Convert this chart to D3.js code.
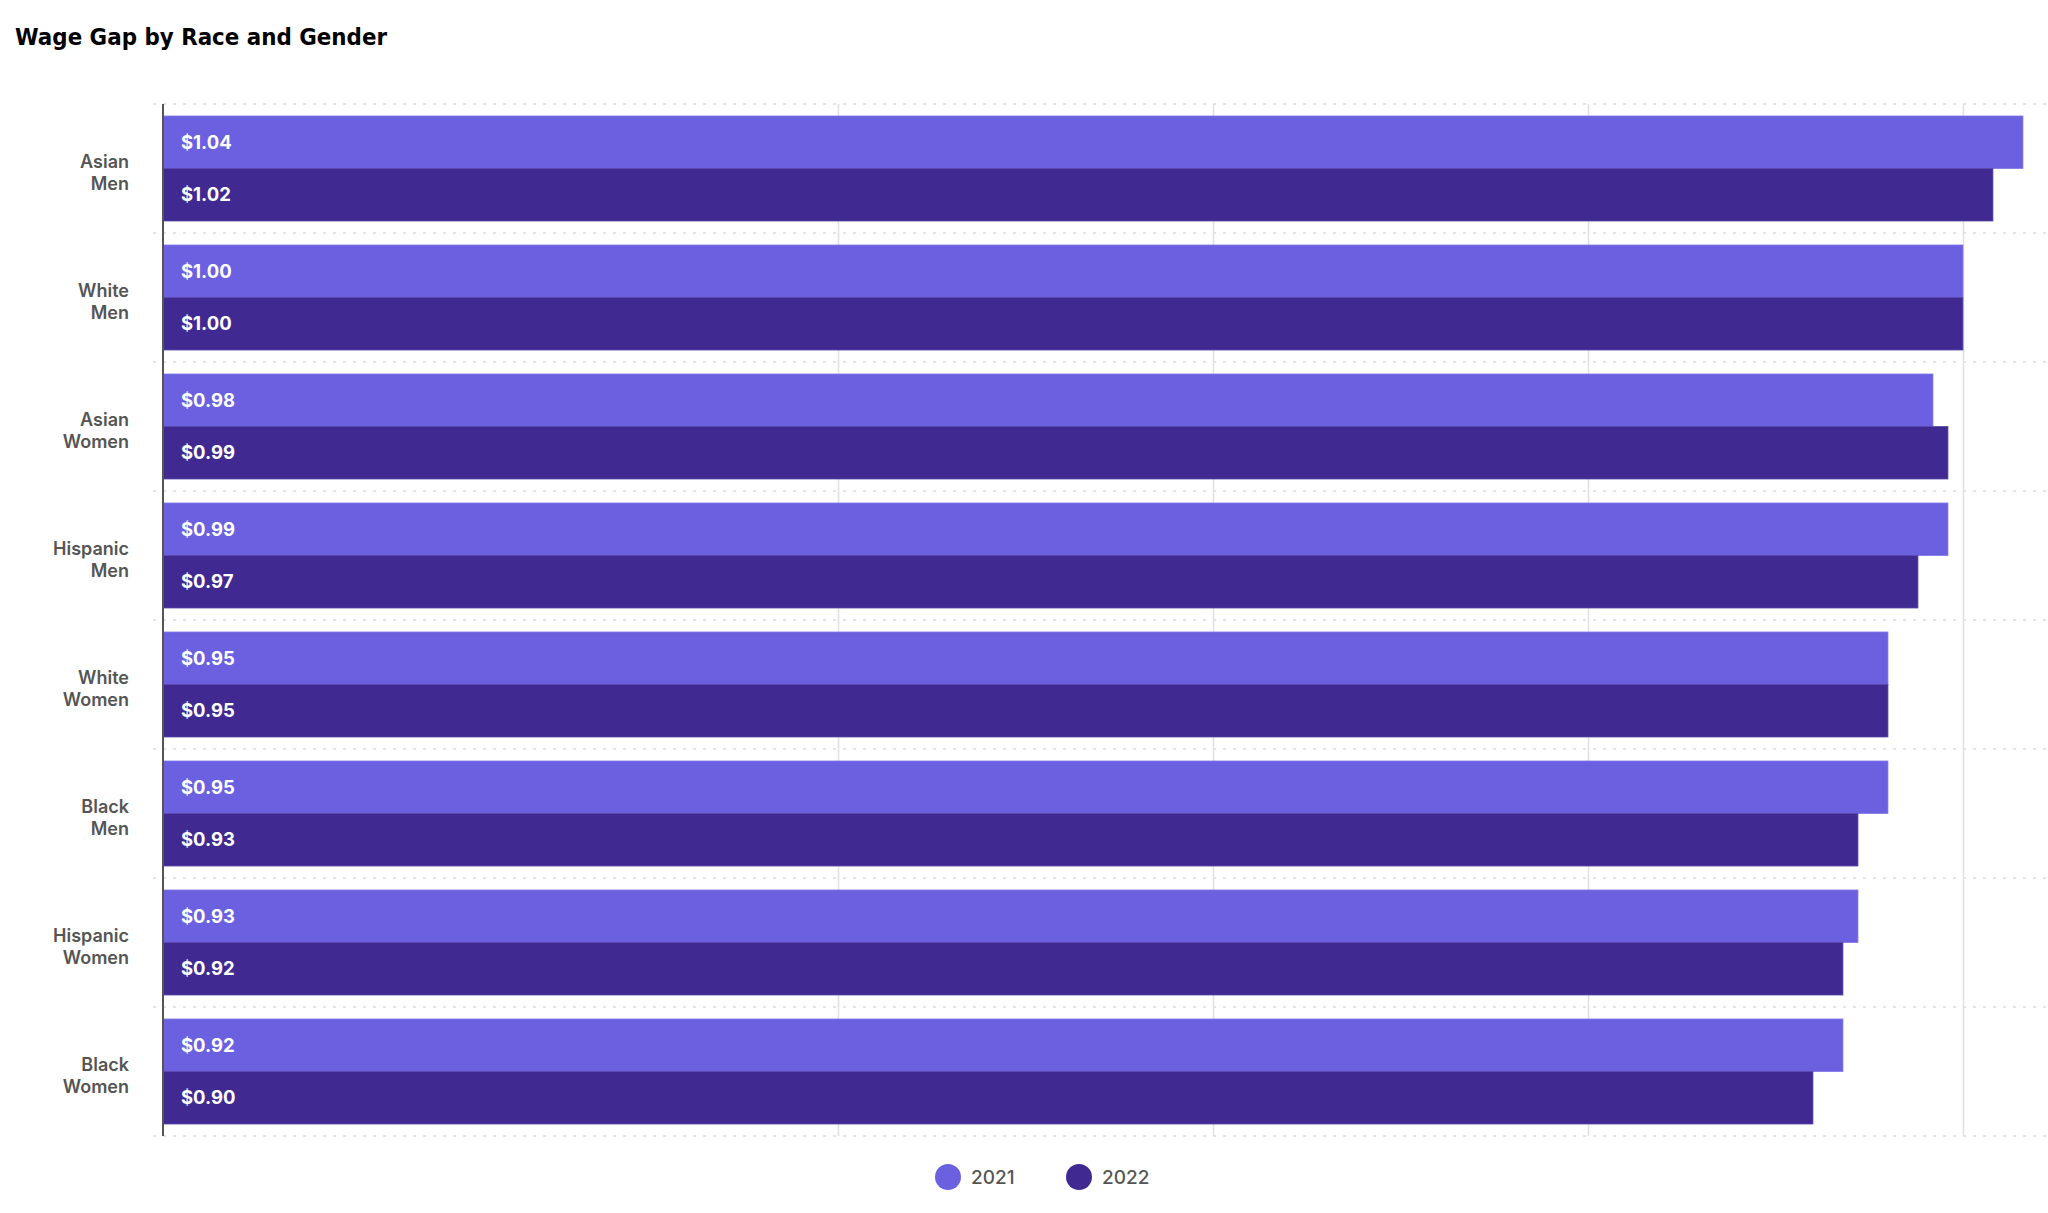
<!DOCTYPE html>
<html><head><meta charset="utf-8">
<script src="https://cdn.jsdelivr.net/npm/d3@7"></script>
<style>
html,body{margin:0;padding:0;background:#fff;}
svg{display:block;}
</style></head>
<body>
<svg id="chart" width="2048" height="1213"></svg>
<script>
const categories = ["Asian Men","White Men","Asian Women","Hispanic Men","White Women","Black Men","Hispanic Women","Black Women"];
const series = ["2021","2022"];
const values2021 = [1.04,1.00,0.98,0.99,0.95,0.95,0.93,0.92];
const values2022 = [1.02,1.00,0.99,0.97,0.95,0.93,0.92,0.90];
const gridTicks = [0.25,0.5,0.75,1.0];
const colors = ["#6A60E0","#402A92"];

(function(){
const svg = d3.select("#chart");
const pLeft = 163, pRight = 2048, pTop = 104, pBottom = 1136;

const x = d3.scaleLinear().domain([-0.2, 1.0567]).range([pLeft, pRight]);
const y = d3.scaleBand().domain(categories).range([pTop, pBottom]).paddingInner(0.186).paddingOuter(0.093);
const y1 = d3.scaleBand().domain(series).range([0, y.bandwidth()]);
const color = d3.scaleOrdinal().domain(series).range(colors);

// title
svg.append("text").attr("x", 15).attr("y", 45)
  .attr("font-family", "'DejaVu Sans', sans-serif").attr("font-weight", 700)
  .attr("font-size", 23).attr("fill", "#000")
  .attr("textLength", 372).attr("lengthAdjust", "spacingAndGlyphs")
  .text("Wage Gap by Race and Gender");

// horizontal dotted separators
const seps = categories.map(c => y(c) - y.step()*y.paddingOuter()).concat([pBottom]);
svg.append("g").selectAll("line").data(seps).join("line")
  .attr("x1", 153).attr("x2", pRight).attr("y1", d => d).attr("y2", d => d)
  .attr("stroke", "#dcdcdc").attr("stroke-width", 1.5).attr("stroke-dasharray", "3,7");

// vertical gridlines
svg.append("g").selectAll("line").data(gridTicks).join("line")
  .attr("x1", d => Math.round(x(d)) + 0.5).attr("x2", d => Math.round(x(d)) + 0.5)
  .attr("y1", pTop).attr("y2", pBottom)
  .attr("stroke", "#e0e0e0").attr("stroke-width", 1.5);

// bars
const data = [];
categories.forEach((c, i) => {
  data.push({cat: c, s: "2021", v: values2021[i]});
  data.push({cat: c, s: "2022", v: values2022[i]});
});

const g = svg.append("g");
g.selectAll("rect").data(data).join("rect")
  .attr("x", x.range()[0])
  .attr("y", d => y(d.cat) + y1(d.s))
  .attr("width", d => x(d.v) - x.range()[0])
  .attr("height", y1.bandwidth())
  .attr("fill", d => color(d.s))
  .attr("stroke", d => d.s === "2021" ? "#8078e8" : "#5a48a8")
  .attr("stroke-width", 0.8);

g.selectAll("text").data(data).join("text")
  .attr("x", pLeft + 18)
  .attr("y", d => y(d.cat) + y1(d.s) + y1.bandwidth()/2)
  .attr("dy", "0.36em")
  .attr("font-family", "Inter, sans-serif").attr("font-weight", 700)
  .attr("font-size", 18.5).attr("fill", "#fff")
  .text(d => "$" + d.v.toFixed(2));

// axis line
svg.append("line").attr("x1", pLeft).attr("x2", pLeft).attr("y1", pTop).attr("y2", pBottom)
  .attr("stroke", "#555").attr("stroke-width", 2);

// category labels
const lab = svg.append("g").selectAll("text").data(categories).join("text")
  .attr("text-anchor", "end")
  .attr("font-family", "Inter, sans-serif").attr("font-weight", 600)
  .attr("font-size", 18).attr("fill", "#555");
lab.each(function(c) {
  const words = c.split(" ");
  const cy = y(c) + y.bandwidth()/2 + 4.5;
  const t = d3.select(this);
  words.forEach((w, k) => {
    t.append("tspan").attr("x", 129).attr("y", cy + (k - (words.length-1)/2)*22).attr("dy", "0.36em").text(w);
  });
});

// legend
const legX = [948, 1079];
const leg = svg.append("g").selectAll("g").data(series).join("g")
  .attr("transform", (d, i) => `translate(${legX[i]},1177)`);
leg.append("circle").attr("r", 13).attr("fill", d => color(d));
leg.append("text").attr("x", 23).attr("dy", "0.36em")
  .attr("font-family", "Inter, sans-serif").attr("font-weight", 500)
  .attr("font-size", 19).attr("fill", "#555").text(d => d);
})();
</script>
</body></html>
